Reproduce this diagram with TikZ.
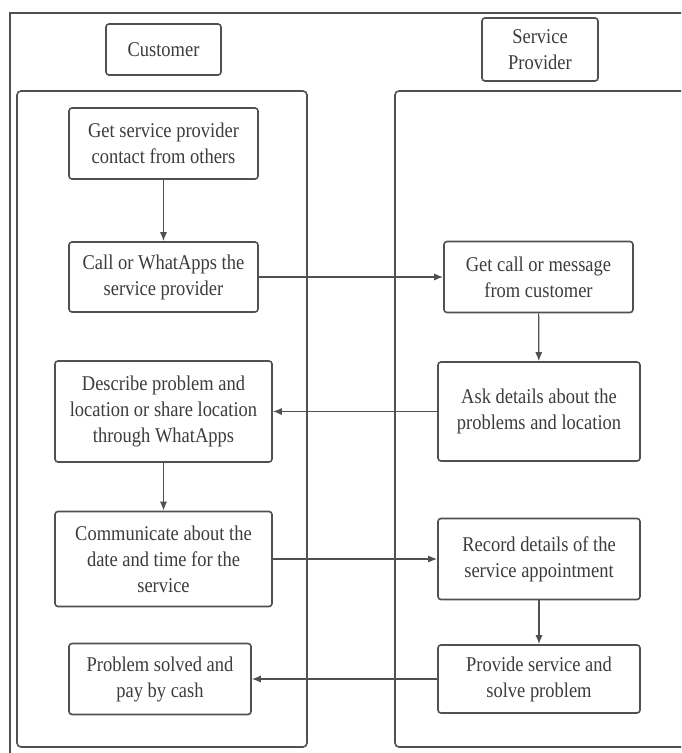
\documentclass[tikz,border=0pt]{standalone}
\usepackage{fontspec}
\setmainfont{Liberation Serif}[FakeStretch=0.88]
\usepackage{tikz}
\usetikzlibrary{positioning,arrows.meta}

\definecolor{edgegray}{HTML}{505050}
\definecolor{inkgray}{HTML}{3C3C3C}
\tikzset{
    box/.style={draw=edgegray, line width=1.6pt, rounded corners=3pt, align=center,
        text=inkgray, inner sep=0pt, font=\fontsize{21}{26}\selectfont},
    lane/.style={draw=edgegray, line width=1.6pt, rounded corners=4pt},
    flow/.style={draw=edgegray, line width=1.2pt, -{Latex[length=9pt,width=7pt]}}
}

\begin{document}
\begin{tikzpicture}[x=1pt,y=-1pt]
    \useasboundingbox (0,0) rectangle (681,753);
    \clip (0,0) rectangle (681,753);
    % frame and lanes
    \draw[edgegray, line width=1.2pt] (10,770) |- (700,13);
    \draw[lane] (17,91) rectangle (307,747);
    \draw[lane] (395,91) rectangle (720,747);

    % lane titles
    \node[box, minimum width=115pt, minimum height=51pt] (cust) at (163.5,49.5) {Customer};
    \node[box, minimum width=116pt, minimum height=63pt] (prov) at (540,49.5) {Service\\Provider};

    % customer side
    \node[box, minimum width=189pt, minimum height=71pt] (c1) at (163.5,143.5) {Get service provider\\contact from others};
    \node[box, minimum width=189pt, minimum height=70pt] (c2) at (163.5,277) {Call or WhatApps the\\service provider};
    \node[box, minimum width=217pt, minimum height=101pt] (c3) at (163.5,411.5) {Describe problem and\\location or share location\\through WhatApps};
    \node[box, minimum width=217pt, minimum height=95pt] (c4) at (163.5,559) {Communicate about the\\date and time for the\\service};
    \node[box, minimum width=182pt, minimum height=71pt] (c5) at (160,679) {Problem solved and\\pay by cash};

    % provider side
    \node[box, minimum width=189pt, minimum height=71pt] (p1) at (538.5,277) {Get call or message\\from customer};
    \node[box, minimum width=202pt, minimum height=99pt] (p2) at (539,411.5) {Ask details about the\\problems and location};
    \node[box, minimum width=202pt, minimum height=81pt] (p3) at (539,559) {Record details of the\\service appointment};
    \node[box, minimum width=202pt, minimum height=68pt] (p4) at (539,679) {Provide service and\\solve problem};

    \draw[flow] (c1) -- (c2);
    \draw[flow] (c2) -- (p1);
    \draw[flow] (p1) -- (p2);
    \draw[flow] (p2) -- (c3);
    \draw[flow] (c3) -- (c4);
    \draw[flow] (c4) -- (p3);
    \draw[flow] (p3) -- (p4);
    \draw[flow] (p4) -- (c5);
\end{tikzpicture}
\end{document}
